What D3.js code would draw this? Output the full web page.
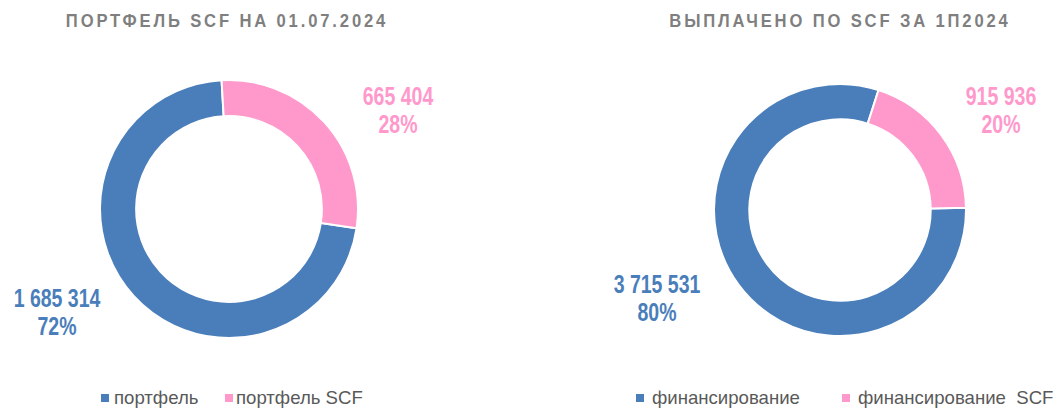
<!DOCTYPE html>
<html>
  <head>
    <meta charset="utf-8">
    <title>SCF</title>
    <script src="https://d3js.org/d3.v7.min.js"></script>
    <style>
      body { margin: 0; background: #fff; }
      #chart { display: block; }
      .title { font-family: "Liberation Sans", Arial, sans-serif; font-weight: bold; font-size: 17.5px; fill: #7f7f7f; letter-spacing: 3px; }
      .val { font-family: "Liberation Sans", Arial, sans-serif; font-weight: bold; font-size: 25px; }
      .legend { font-family: "Liberation Sans", Arial, sans-serif; font-size: 18.6px; fill: #595959; }
    </style>
  </head>
  <body>
    <svg id="chart" width="1060" height="408"></svg>
    <script>
      // chart data
      var titles = ["ПОРТФЕЛЬ SCF НА 01.07.2024", "ВЫПЛАЧЕНО ПО SCF ЗА 1П2024"];
      var categories = [["портфель", "портфель SCF"], ["финансирование", "финансирование  SCF"]];
      var values = [[1685314, 665404], [3715531, 915936]];
      var percents = [["72%", "28%"], ["80%", "20%"]];
      var colors = ["#4a7ebb", "#ff99cc"];

      // layout of each donut
      var panels = [
        { cx: 229, cy: 209, r: 129, start: 98.6, titleX: 227,
          labels: [[57, 298], [398, 96]], legend: [[105, 229], [114, 236]] },
        { cx: 840, cy: 210, r: 126, start: 89, titleX: 840,
          labels: [[657, 284], [1001, 96]], legend: [[640, 846], [652, 858]] }
      ];

      var chart = d3.select("#chart");
      var fmt = function(v) { return d3.format(",")(v).replace(/,/g, " "); };

      panels.forEach(function(p, i) {
        var g = chart.append("g");
        g.append("g")
          .attr("transform", "translate(" + p.titleX + ",27) scale(0.95,1)")
          .append("text")
            .attr("class", "title")
            .attr("text-anchor", "middle")
            .text(titles[i]);

        var pie = d3.pie()
          .sort(null)
          .startAngle(p.start * Math.PI / 180)
          .endAngle((p.start + 360) * Math.PI / 180);
        var arc = d3.arc()
          .innerRadius(p.r * 0.72)
          .outerRadius(p.r);
        g.append("g")
          .attr("transform", "translate(" + p.cx + "," + p.cy + ")")
          .selectAll("path")
          .data(pie(values[i]))
          .enter()
          .append("path")
            .attr("d", arc)
            .attr("fill", function(d, j) { return colors[j]; })
            .attr("stroke", "#fff")
            .attr("stroke-width", 2);

        values[i].forEach(function(v, j) {
          // condensed data label
          var t = g.append("g")
            .attr("transform", "translate(" + p.labels[j][0] + "," + p.labels[j][1] + ") scale(0.78,1)")
            .append("text")
              .attr("class", "val")
              .attr("text-anchor", "middle")
              .attr("fill", colors[j]);
          t.append("tspan")
            .attr("x", 0)
            .attr("y", 9)
            .text(fmt(v));
          t.append("tspan")
            .attr("x", 0)
            .attr("y", 37)
            .text(percents[i][j]);

          g.append("rect")
            .attr("x", p.legend[0][j] - 4)
            .attr("y", 394)
            .attr("width", 8)
            .attr("height", 8)
            .attr("fill", colors[j]);
          g.append("text")
            .attr("class", "legend")
            .attr("x", p.legend[1][j])
            .attr("y", 404)
            .attr("xml:space", "preserve")
            .style("white-space", "pre")
            .text(categories[i][j]);
        });
      });
    </script>
  </body>
</html>
